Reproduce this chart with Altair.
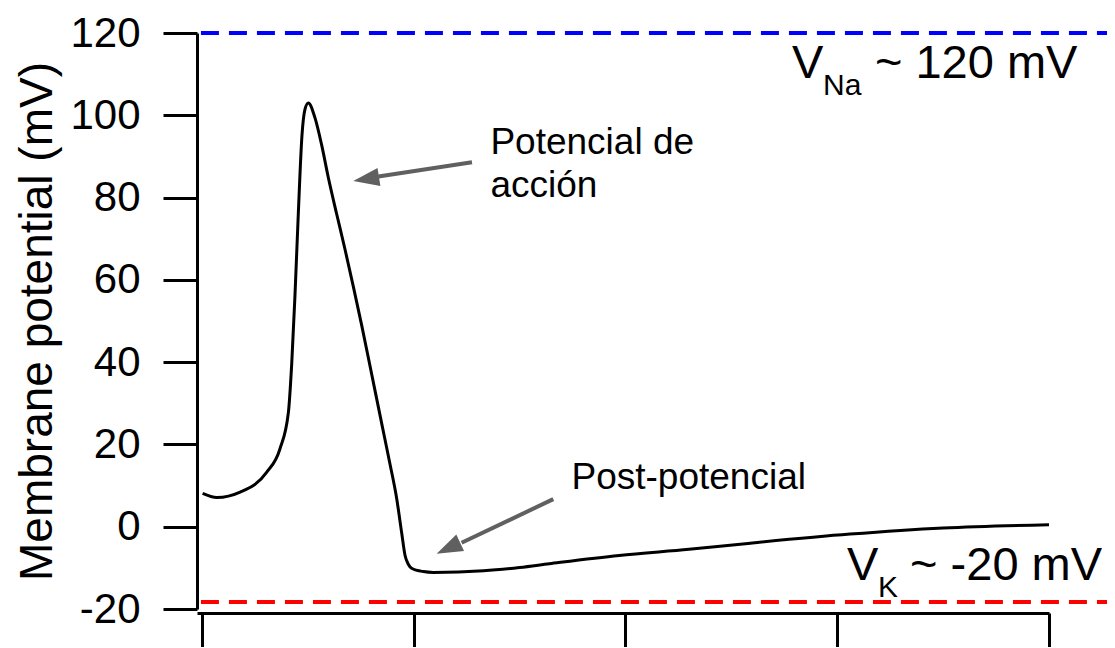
import altair as alt
import pandas as pd

# ---- data ----
trace_t = [0.003, 0.07, 0.18, 0.305, 0.368, 0.408, 0.424, 0.439, 0.455, 0.472,
           0.486, 0.502, 0.534, 0.565, 0.596, 0.636, 0.675, 0.715, 0.754, 0.793,
           0.849, 0.888, 0.919, 0.943, 0.959, 0.975, 0.99, 1.045, 1.092, 1.33,
           1.5, 1.64, 1.97, 2.3, 2.59, 3.06, 3.5, 4.0]
trace_v = [8.1, 7.1, 8.4, 13.2, 18.9, 27.8, 39.9, 56.1, 76.3, 95.0,
           101.4, 103.0, 99.3, 92.8, 85.0, 76.0, 67.5, 58.3, 49.0, 39.2,
           25.0, 15.2, 7.0, -1.5, -7.0, -9.2, -10.1, -10.9, -11.1, -10.7,
           -9.9, -9.0, -7.0, -5.5, -4.0, -1.8, -0.3, 0.5]

y_ticks = [-20, 0, 20, 40, 60, 80, 100, 120]
x_ticks = [0, 1, 2, 3, 4]

level_y = [120, -18.3]
level_x0 = [-0.005, -0.005]
level_x1 = [4.4, 4.4]
level_color = ["#0000FF", "#FF0000"]

arrow_x0 = [1.275, 1.659]
arrow_y0 = [88.6, 6.7]
arrow_xb = [0.833, 1.226]
arrow_yb = [85.1, -3.9]
arrow_xt = [0.7145, 1.108]
arrow_yt = [84.0, -6.6]
arrow_angle = [260.9, 244.9]

label_text = ["Potencial de", "acción", "Post-potencial",
              "V", "Na", "~ 120 mV",
              "V", "K", "~ -20 mV"]
label_x = [1.362, 1.362, 1.745, 2.786, 2.933, 3.178, 3.046, 3.192, 3.344]
label_y = [90.6, 80.1, 9.2, 109.1, 104.9, 109.1, -12.96, -17.1, -12.96]
label_size = [37, 37, 37, 47, 30, 47, 47, 30, 47]

FONT = "Liberation Sans"

trace_df = pd.DataFrame({"x": trace_t, "y": trace_v})
level_df = pd.DataFrame({"x": level_x0, "x2": level_x1, "y": level_y, "c": level_color})
shaft_df = pd.DataFrame({"x": arrow_x0, "y": arrow_y0, "x2": arrow_xb, "y2": arrow_yb})
head_df = pd.DataFrame({"x": arrow_xt, "y": arrow_yt, "a": arrow_angle})
label_df = pd.DataFrame({"x": label_x, "y": label_y, "t": label_text, "s": label_size})

xs = alt.Scale(domain=[-0.0236, 4.0], nice=False, zero=False)
ys = alt.Scale(domain=[-20, 120], nice=False, zero=False)

xaxis = alt.Axis(
    values=x_ticks, labels=False, title=None, grid=False,
    domainColor="black", domainWidth=3, tickColor="black", tickWidth=3,
    tickSize=36, offset=4)
yaxis = alt.Axis(
    values=y_ticks, labelExpr="'' + datum.value", title="Membrane potential (mV)",
    grid=False, domainColor="black", domainWidth=3, tickColor="black",
    tickWidth=3, tickSize=34, labelPadding=23, labelFont=FONT,
    labelFontSize=42, labelColor="black", titleFont=FONT, titleFontSize=46,
    titleFontWeight="normal", titleColor="black", titlePadding=8)

X = alt.X("x:Q", scale=xs, axis=xaxis)
Y = alt.Y("y:Q", scale=ys, axis=yaxis)

trace = alt.Chart(trace_df).mark_line(
    color="black", strokeWidth=3, interpolate="monotone"
).encode(x=X, y=Y)

levels = alt.Chart(level_df).mark_rule(strokeWidth=4, strokeDash=[18, 10]).encode(
    x=X, x2="x2:Q", y=Y,
    color=alt.Color("c:N", scale=None),
)

shafts = alt.Chart(shaft_df).mark_rule(strokeWidth=4, color="#606060").encode(
    x=X, y=Y, x2="x2:Q", y2="y2:Q",
)

heads = alt.Chart(head_df).mark_point(
    shape="M0,0L0.35,1L-0.35,1Z", filled=True, color="#606060", opacity=1,
    size=2704, strokeWidth=0
).encode(
    x=X, y=Y,
    angle=alt.Angle("a:Q", scale=None),
)

labels = alt.Chart(label_df).mark_text(
    align="left", baseline="alphabetic", font=FONT, color="black"
).encode(
    x=X, y=Y,
    text="t:N",
    size=alt.Size("s:Q", scale=None),
)

chart = alt.layer(trace, levels, shafts, heads, labels).properties(
    width=852, height=576,
    autosize=alt.AutoSizeParams(type="none"),
    padding={"left": 189, "top": 25, "right": 58, "bottom": 38},
    background="white",
).configure_view(stroke=None)

chart.save("out.html", embed_options={"renderer": "svg", "actions": False})
